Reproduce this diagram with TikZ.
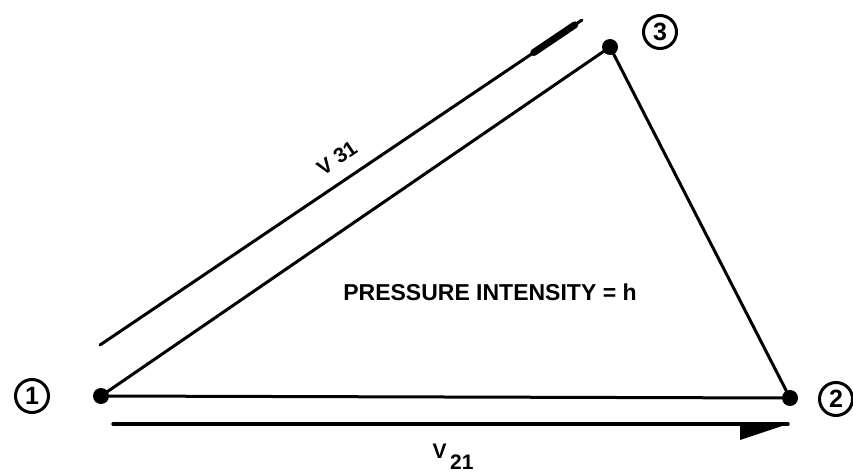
\documentclass[tikz,border=0pt]{standalone}
\usepackage{fontspec}
\setmainfont{Liberation Sans}
\usetikzlibrary{calc}

\begin{document}
\begin{tikzpicture}[x=1pt,y=-1pt,
  bord/.style={line width=3pt,line cap=round},
  vertice/.style={circle,fill=black,inner sep=0pt,minimum size=16pt},
  numero/.style={circle,draw=black,line width=3pt,inner sep=0pt,minimum size=33pt,font=\fontsize{25}{25}\selectfont\bfseries},
  rotulo/.style={font=\fontsize{21}{21}\selectfont\bfseries,inner sep=0pt}]
\useasboundingbox (0,0) rectangle (853,473);
\node[vertice] (p1) at (101,396) {};
\node[vertice] (p2) at (790,398) {};
\node[vertice] (p3) at (610,47) {};
\node[numero] (n1) at (32,396) {1};
\node[numero] (n2) at (836,399) {2};
\node[numero] (n3) at (660,32) {3};
\draw[bord] (p1.center) -- (p2.center) -- (p3.center) -- cycle;
\coordinate (a31) at (100,345);
\coordinate (b31) at (582,20);
\draw[bord] (a31) -- (b31);
\draw[line width=7pt,line cap=round] ($(a31)!0.9!(b31)$) -- ($(a31)!0.985!(b31)$);
\coordinate (a21) at (113,424);
\coordinate (b21) at (788,424);
\draw[bord,line width=3.4pt] (a21) -- (b21);
\fill (740,424) -- (740,440) -- (b21) -- cycle;
\node[rotulo,rotate=34] (v31) at (337,158) {V 31};
\node[rotulo] (v21) at (453,457) {V\raisebox{-11pt}{\,21}};
\node[font=\fontsize{23}{23}\selectfont\bfseries] (ph) at (490,292) {PRESSURE INTENSITY = h};
\end{tikzpicture}
\end{document}
